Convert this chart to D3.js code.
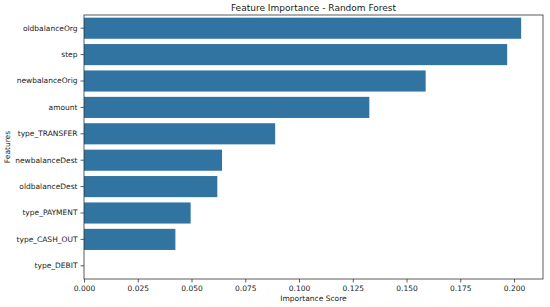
<!DOCTYPE html>
<html>
<head>
<meta charset="utf-8">
<title>Feature Importance - Random Forest</title>
<script src="https://cdn.jsdelivr.net/npm/d3@7"></script>
<style>
  body { margin: 0; background: #fff; }
  text { font-family: "DejaVu Sans", sans-serif; fill: #1a1a1a; }
</style>
</head>
<body>
<script>
var features = ["oldbalanceOrg", "step", "newbalanceOrig", "amount", "type_TRANSFER",
  "newbalanceDest", "oldbalanceDest", "type_PAYMENT", "type_CASH_OUT", "type_DEBIT"];
var importance = [0.2033, 0.1968, 0.1589, 0.1327, 0.0889, 0.0642, 0.0620, 0.0496, 0.0425, 0.0];
var xTicks = [0, 0.025, 0.05, 0.075, 0.1, 0.125, 0.15, 0.175, 0.2];

var width = 550, height = 307;
var margin = {top: 15, right: 7, bottom: 28, left: 84};

var svg = d3.select("body").append("svg").attr("width", width).attr("height", height);

var x = d3.scaleLinear()
  .domain([0, d3.max(importance) * 1.05])
  .range([margin.left, width - margin.right]);

var y = d3.scaleBand()
  .domain(features)
  .range([margin.top, height - margin.bottom])
  .paddingInner(0.2)
  .paddingOuter(0.1);

svg.selectAll("rect.bar").data(features).enter().append("rect")
  .attr("class", "bar")
  .attr("x", x(0))
  .attr("y", function(d) { return y(d); })
  .attr("width", function(d, i) { return x(importance[i]) - x(0); })
  .attr("height", y.bandwidth())
  .attr("fill", "#3274a1");

// x axis
var xAxis = svg.append("g")
  .attr("transform", "translate(0," + (height - margin.bottom) + ")")
  .call(d3.axisBottom(x).tickValues(xTicks).tickFormat(d3.format(".3f")).tickSize(3.5).tickPadding(3));

// y axis
var yAxis = svg.append("g")
  .attr("transform", "translate(" + margin.left + ",0)")
  .call(d3.axisLeft(y).tickSize(3.5).tickPadding(3));

[xAxis, yAxis].forEach(function(g) {
  g.select(".domain").remove();
  g.selectAll("text").style("font-size", "7.5px").attr("fill", "#1a1a1a");
  g.selectAll("line").attr("stroke", "#333").attr("stroke-width", 0.8);
});

// frame
svg.append("rect")
  .attr("x", margin.left).attr("y", margin.top)
  .attr("width", width - margin.right - margin.left)
  .attr("height", height - margin.bottom - margin.top)
  .attr("fill", "none").attr("stroke", "#333").attr("stroke-width", 0.8);

svg.append("text")
  .attr("x", (margin.left + width - margin.right) / 2)
  .attr("y", 11)
  .attr("text-anchor", "middle")
  .style("font-size", "9px")
  .text("Feature Importance - Random Forest");

svg.append("text")
  .attr("x", (margin.left + width - margin.right) / 2)
  .attr("y", 301)
  .attr("text-anchor", "middle")
  .style("font-size", "7.5px")
  .text("Importance Score");

svg.append("text")
  .attr("transform", "translate(10," + ((margin.top + height - margin.bottom) / 2) + ") rotate(-90)")
  .attr("text-anchor", "middle")
  .style("font-size", "7.5px")
  .text("Features");
</script>
</body>
</html>
